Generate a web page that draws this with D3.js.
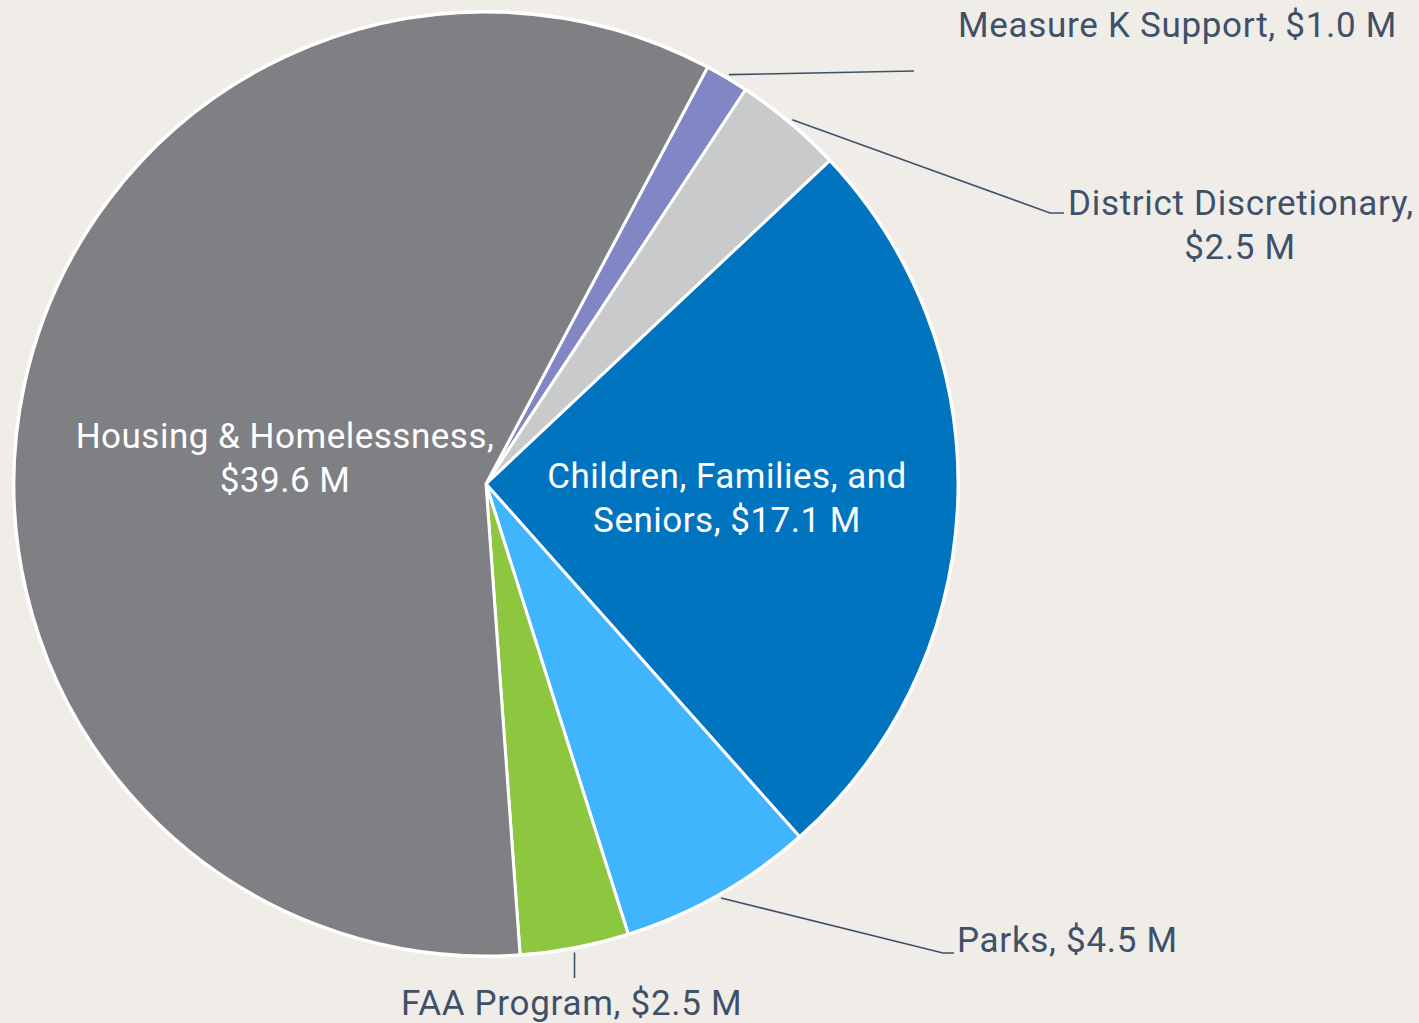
<!DOCTYPE html>
<html>
<head>
<meta charset="utf-8">
<script src="https://cdn.jsdelivr.net/npm/d3@7"></script>
<style>
  html, body { margin: 0; padding: 0; background: #f0ede8; }
  svg { display: block; }
</style>
</head>
<body>
<svg></svg>
<script>
const width = 1419;
const height = 1023;

// data ////////////////////////
const categories = ['Measure K Support', 'District Discretionary', 'Children, Families, and Seniors', 'Parks', 'FAA Program', 'Housing & Homelessness'];
const values = [1.0, 2.5, 17.1, 4.5, 2.5, 39.6];
const colors = ['#8087c4', '#c9cacc', '#0074bf', '#40b4fd', '#8dc63f', '#7f8084'];
const labelLines = [
  ['Measure K Support, $1.0 M'],
  ['District Discretionary,', '$2.5 M'],
  ['Children, Families, and', 'Seniors, $17.1 M'],
  ['Parks, $4.5 M'],
  ['FAA Program, $2.5 M'],
  ['Housing & Homelessness,', '$39.6 M']
];

const cx = 486, cy = 484, radius = 472;
const fontSize = 35;
const lineH = 44;
const textColor = '#3f5169';
const fontFam = 'Roboto, "Liberation Sans", sans-serif';

const svg = d3.select('svg')
  .attr('width', width)
  .attr('height', height);

svg.append('rect')
  .attr('width', width)
  .attr('height', height)
  .attr('fill', '#f0ede8');

const data = categories.map((c, i) => ({ name: c, value: values[i], color: colors[i], lines: labelLines[i] }));

const startA = 28.0 * Math.PI / 180;
const pie = d3.pie()
  .sort(null)
  .value(d => d.value)
  .startAngle(startA)
  .endAngle(startA + 2 * Math.PI);

const arcs = pie(data);
const arc = d3.arc().innerRadius(0).outerRadius(radius);

const g = svg.append('g').attr('transform', `translate(${cx},${cy})`);

g.append('circle')
  .attr('r', radius + 2)
  .attr('fill', '#ffffff');

g.selectAll('path.slice')
  .data(arcs)
  .enter()
  .append('path')
  .attr('class', 'slice')
  .attr('d', arc)
  .attr('fill', d => d.data.color)
  .attr('stroke', '#ffffff')
  .attr('stroke-width', 3)
  .attr('stroke-linejoin', 'round');

// point on the rim at a slice's middle angle
function rim(d, r) {
  const a = (d.startAngle + d.endAngle) / 2;
  return [cx + r * Math.sin(a), cy - r * Math.cos(a)];
}

// outside labels and leader lines
const outside = {
  0: { pts: [[914, 71]], tx: 958, ty: 37 },
  1: { pts: [[1050, 213], [1064, 213]], tx: 1068, ty: 215, tx2: 1240 },
  3: { pts: [[943, 953], [954, 953]], tx: 957, ty: 952 },
  4: { pts: [], tx: 401, ty: 1015 }
};

Object.keys(outside).forEach(k => {
  const d = arcs[+k];
  const o = outside[k];
  const p0 = rim(d, radius + 4);
  let pts = [p0].concat(o.pts);
  if (+k === 4) pts = [[p0[0] - 1, p0[1] + 1], [p0[0] - 1, 978]];
  svg.append('path')
    .attr('d', d3.line()(pts))
    .attr('fill', 'none')
    .attr('stroke', textColor)
    .attr('stroke-width', 1.6);

  const t = svg.append('text')
    .attr('font-family', fontFam)
    .attr('font-size', fontSize)
    .attr('letter-spacing', 0.7)
    .attr('fill', textColor);
  d.data.lines.forEach((line, i) => {
    t.append('tspan')
      .attr('x', i === 0 ? o.tx : o.tx2)
      .attr('y', o.ty + i * lineH)
      .attr('text-anchor', i === 0 ? 'start' : 'middle')
      .text(line);
  });
});

// inside labels
const inside = {
  2: { x: 727, y: 488 },
  5: { x: 285, y: 448 }
};
Object.keys(inside).forEach(k => {
  const d = arcs[+k];
  const o = inside[k];
  const t = svg.append('text')
    .attr('font-family', fontFam)
    .attr('font-size', fontSize)
    .attr('letter-spacing', 0.5)
    .attr('fill', '#ffffff')
    .attr('text-anchor', 'middle');
  d.data.lines.forEach((line, i) => {
    t.append('tspan')
      .attr('x', o.x)
      .attr('y', o.y + i * lineH)
      .text(line);
  });
});
</script>
</body>
</html>
